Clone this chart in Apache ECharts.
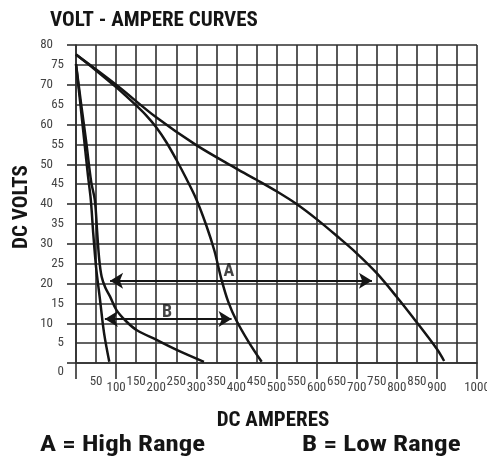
<!DOCTYPE html>
<html>
<head>
<meta charset="utf-8">
<script src="https://cdn.jsdelivr.net/npm/echarts@6/dist/echarts.min.js"></script>
<style>
  html, body { margin: 0; padding: 0; background: #fff; }
  #chart { width: 487px; height: 456px; }
</style>
</head>
<body>
<div id="chart"></div>
<script>
// High range (A): outer and inner volt-ampere curves
const highOuterAmps  = [0, 100, 200, 300, 400, 450, 500, 550, 600, 650, 700, 750, 800, 850, 900, 918];
const highOuterVolts = [77.6, 70, 61.8, 54.8, 48.9, 46.1, 43.2, 40, 36.2, 32, 27.6, 22.6, 16.6, 10.2, 3.5, 0.5];

const highInnerAmps  = [0, 50, 100, 150, 175, 200, 225, 250, 275, 300, 325, 345, 362, 380, 400, 430, 463];
const highInnerVolts = [77.6, 73.6, 69.4, 64.8, 62.3, 59.3, 55.6, 51.2, 46.4, 41.2, 34.6, 28.3, 21.3, 15.3, 10.7, 5.4, 0.3];

// Low range (B): steep and bending curves
const lowSteepAmps  = [0, 10, 20, 30, 37, 43, 50, 60, 70, 83];
const lowSteepVolts = [75.2, 66, 56.5, 47, 41, 32.6, 24.2, 15.8, 7.5, 0.3];

const lowBendAmps  = [0, 13, 25, 38, 47, 53, 58, 64, 73, 85, 101, 125, 151, 201, 251, 319];
const lowBendVolts = [75.2, 65, 56, 45.5, 41, 32.6, 26, 21.7, 19, 16.7, 13.3, 10.5, 8.3, 5.8, 3.3, 0.3];

// Range arrows: [fromAmps, toAmps, volts]
const arrowA = [85, 738, 20.7];
const arrowB = [72, 388, 11.1];

// Range letters: [amps, volts, text]
const rangeLetters = [[381, 23, 'A'], [227, 12.8, 'B']];

// Axis ranges and steps
const ampsMin = 0, ampsMax = 1000, ampsStep = 50, ampsTickStep = 100;
const voltsMin = 0, voltsMax = 80, voltsStep = 5, voltsTickStep = 10;

const NARROW = "'Roboto Condensed', 'Liberation Sans Narrow', 'DejaVu Sans Condensed', sans-serif";
const GRID_COLOR = '#2f2f2f';
const INK = '#151515';

const pairs = (xs, ys) => xs.map((x, i) => [x, ys[i]]);

const curve = (name, xs, ys) => ({
  name: name,
  type: 'line',
  data: pairs(xs, ys),
  smooth: 0.35,
  showSymbol: false,
  symbol: 'none',
  lineStyle: { color: INK, width: 2.5 },
  silent: true,
  z: 5
});

const numStyle = { fontFamily: NARROW, fontSize: 13, color: '#444' };
const gridLine = { color: GRID_COLOR, width: 1.6 };

const chart = echarts.init(document.getElementById('chart'), null, { renderer: 'canvas' });

chart.setOption({
  animation: false,
  backgroundColor: '#fff',
  grid: { left: 76, right: 10, top: 45, bottom: 93, containLabel: false, outerBoundsMode: 'none' },
  xAxis: [
    {
      type: 'value', min: ampsMin, max: ampsMax, interval: ampsStep,
      axisLine: { show: true, onZero: false, lineStyle: gridLine },
      axisTick: { show: true, length: 0, lineStyle: { color: 'rgba(0,0,0,0)' } },
      splitLine: { show: true, lineStyle: gridLine },
      axisLabel: {
        margin: 13,
        showMinLabel: true,
        showMaxLabel: true,
        formatter: v => v === 0 ? '' : (v % 100 === 0 ? '{d|' + v + '}' : '{u|' + v + '}'),
        rich: {
          u: Object.assign({ lineHeight: 12 }, numStyle),
          d: Object.assign({ lineHeight: 12, padding: [11, 0, 0, 0] }, numStyle)
        }
      }
    },
    {
      type: 'value', min: ampsMin, max: ampsMax, interval: ampsTickStep, position: 'bottom',
      axisLine: { show: false },
      axisTick: { show: true, length: 16, lineStyle: gridLine },
      splitLine: { show: false },
      axisLabel: { show: false }
    }
  ],
  yAxis: [
    {
      type: 'value', min: voltsMin, max: voltsMax, interval: voltsStep,
      axisLine: { show: true, onZero: false, lineStyle: gridLine },
      axisTick: { show: true, length: 0, lineStyle: { color: 'rgba(0,0,0,0)' } },
      splitLine: { show: true, lineStyle: gridLine },
      axisLabel: {
        margin: 12,
        showMinLabel: true,
        showMaxLabel: true,
        formatter: v => v === 0 ? '{z|0}' : (v % 10 === 0 ? '{l|' + v + '}' : '{r|' + v + '}'),
        rich: {
          l: Object.assign({ padding: [0, 11, 0, 0] }, numStyle),
          r: Object.assign({}, numStyle),
          z: Object.assign({ padding: [18, 0, 0, 0] }, numStyle)
        }
      }
    },
    {
      type: 'value', min: voltsMin, max: voltsMax, interval: voltsTickStep, position: 'left',
      axisLine: { show: false },
      axisTick: { show: true, length: 9, lineStyle: gridLine },
      splitLine: { show: false },
      axisLabel: { show: false }
    }
  ],
  series: [
    curve('A outer', highOuterAmps, highOuterVolts),
    curve('A inner', highInnerAmps, highInnerVolts),
    curve('B steep', lowSteepAmps, lowSteepVolts),
    curve('B bend', lowBendAmps, lowBendVolts),
    {
      name: 'Ranges',
      type: 'scatter',
      data: rangeLetters.map(r => ({ value: [r[0], r[1]], label: { formatter: r[2] } })),
      symbolSize: 1,
      itemStyle: { color: 'transparent' },
      label: {
        show: true, position: 'inside',
        fontFamily: NARROW, fontWeight: 'bold', fontSize: 18, color: INK
      },
      silent: true,
      z: 6,
      markLine: {
        silent: true,
        symbol: ['arrow', 'arrow'],
        symbolSize: [12, 13],
        label: { show: false },
        lineStyle: { color: INK, width: 2, type: 'solid' },
        data: [
          [{ coord: [arrowA[0], arrowA[2]] }, { coord: [arrowA[1], arrowA[2]] }],
          [{ coord: [arrowB[0], arrowB[2]] }, { coord: [arrowB[1], arrowB[2]] }]
        ]
      }
    }
  ],
  graphic: [
    {
      type: 'text', x: 50, y: 21,
      style: { text: 'VOLT - AMPERE CURVES', font: 'bold 21px ' + NARROW, fill: INK, verticalAlign: 'middle' }
    },
    {
      type: 'text', x: 22, y: 207, rotation: Math.PI / 2,
      style: { text: 'DC VOLTS', font: 'bold 21px ' + NARROW, fill: INK, align: 'center', verticalAlign: 'middle' }
    },
    {
      type: 'text', x: 273, y: 420.5,
      style: { text: 'DC AMPERES', font: 'bold 21px ' + NARROW, fill: INK, align: 'center', verticalAlign: 'middle' }
    },
    {
      type: 'text', x: 40, y: 445, scaleX: 1.22,
      style: { text: 'A = High Range', font: 'bold 22px ' + NARROW, fill: INK, verticalAlign: 'middle' }
    },
    {
      type: 'text', x: 302, y: 445, scaleX: 1.23,
      style: { text: 'B = Low Range', font: 'bold 22px ' + NARROW, fill: INK, verticalAlign: 'middle' }
    }
  ]
});
</script>
</body>
</html>
